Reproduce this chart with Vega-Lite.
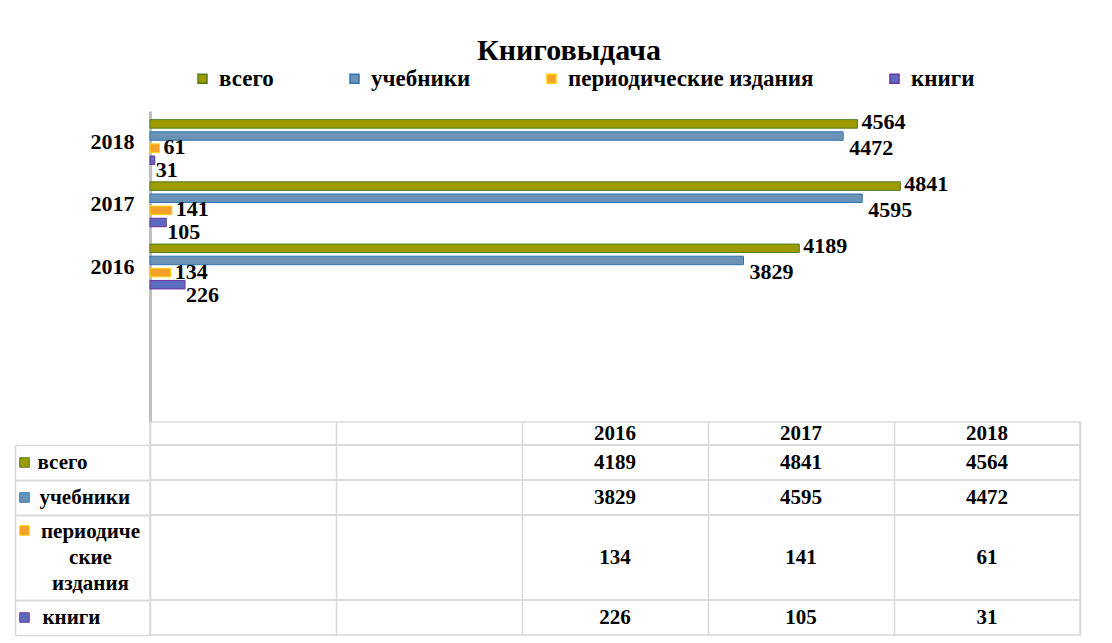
{
  "$schema": "https://vega.github.io/schema/vega-lite/v6.json",
  "padding": {"left": 13, "top": 36, "right": 10, "bottom": 5},
  "spacing": 0,
  "bounds": "flush",
  "datasets": {
    "vals": [
      {"year": "2016", "series": "всего", "value": 4189},
      {"year": "2016", "series": "учебники", "value": 3829},
      {"year": "2016", "series": "периодические издания", "value": 134},
      {"year": "2016", "series": "книги", "value": 226},
      {"year": "2017", "series": "всего", "value": 4841},
      {"year": "2017", "series": "учебники", "value": 4595},
      {"year": "2017", "series": "периодические издания", "value": 141},
      {"year": "2017", "series": "книги", "value": 105},
      {"year": "2018", "series": "всего", "value": 4564},
      {"year": "2018", "series": "учебники", "value": 4472},
      {"year": "2018", "series": "периодические издания", "value": 61},
      {"year": "2018", "series": "книги", "value": 31}
    ]
  },
  "vconcat": [
    {
      "width": 930,
      "height": 311,
      "view": {"stroke": null},
      "title": {"text": "Книговыдача", "font": "Liberation Serif", "fontSize": 30, "fontWeight": "bold", "color": "black", "dx": -46, "offset": 1},
      "data": {"name": "vals"},
      "encoding": {
        "y": {"field": "year", "type": "nominal", "scale": {"domain": ["2018", "2017", "2016", " ", "  "], "paddingInner": 0.22, "paddingOuter": 0.11},
          "axis": {"title": null, "domainColor": "#bfbfbf", "domainWidth": 3, "ticks": false, "grid": false, "labelFont": "Liberation Serif", "labelFontWeight": "bold", "labelFontSize": 22, "labelColor": "black", "labelPadding": 16}},
        "yOffset": {"field": "series", "type": "nominal", "scale": {"domain": ["всего", "учебники", "периодические издания", "книги"], "paddingInner": 0.3, "paddingOuter": 0.15}},
        "x": {"field": "value", "type": "quantitative", "scale": {"domain": [0, 6000], "nice": false}, "axis": null}
      },
      "layer": [
        {
          "mark": {"type": "bar", "strokeWidth": 1},
          "encoding": {
            "color": {"field": "series", "type": "nominal",
              "scale": {"domain": ["всего", "учебники", "периодические издания", "книги"], "range": ["#9e9b00", "#6a93b5", "#f4a12a", "#5b6cbf"]},
              "legend": {"orient": "none", "direction": "horizontal", "legendX": 41, "legendY": -44, "title": null, "symbolType": "square", "symbolSize": 81, "labelFont": "Liberation Serif", "labelFontWeight": "bold", "labelFontSize": 23, "labelColor": "black", "labelOffset": 5, "columnPadding": 69, "padding": 0, "labelLimit": 400}},
            "stroke": {"field": "series", "type": "nominal",
              "scale": {"domain": ["всего", "учебники", "периодические издания", "книги"], "range": ["#4e7d1a", "#2e75b6", "#ffd000", "#7030a0"]},
              "legend": null}
          }
        },
        {
          "transform": [{"filter": "datum.series === 'всего'"}],
          "mark": {"type": "text", "align": "left", "dx": 4, "dy": -2, "font": "Liberation Serif", "fontWeight": "bold", "fontSize": 22, "color": "black"},
          "encoding": {"text": {"field": "value", "type": "quantitative", "format": "d"}}
        },
        {
          "transform": [{"filter": "datum.series === 'учебники'"}],
          "mark": {"type": "text", "align": "left", "dx": 6, "dy": 12, "font": "Liberation Serif", "fontWeight": "bold", "fontSize": 22, "color": "black"},
          "encoding": {"text": {"field": "value", "type": "quantitative", "format": "d"}}
        },
        {
          "transform": [{"filter": "datum.series === 'периодические издания'"}],
          "mark": {"type": "text", "align": "left", "dx": 4, "dy": -1, "font": "Liberation Serif", "fontWeight": "bold", "fontSize": 22, "color": "black"},
          "encoding": {"text": {"field": "value", "type": "quantitative", "format": "d"}}
        },
        {
          "transform": [{"filter": "datum.series === 'книги'"}],
          "mark": {"type": "text", "align": "left", "dx": 1, "dy": 10, "font": "Liberation Serif", "fontWeight": "bold", "fontSize": 22, "color": "black"},
          "encoding": {"text": {"field": "value", "type": "quantitative", "format": "d"}}
        }
      ]
    },
    {
      "width": 930,
      "height": 23,
      "data": {"name": "vals"},
      "transform": [{"filter": "datum.series === 'всего'"}],
      "mark": {"type": "text", "font": "Liberation Serif", "fontWeight": "bold", "fontSize": 21, "color": "black"},
      "encoding": {
        "x": {"field": "year", "type": "nominal", "scale": {"domain": [" ", "  ", "2016", "2017", "2018"]},
          "axis": {"title": null, "labels": false, "ticks": false, "domain": false, "grid": true, "tickBand": "extent", "gridColor": "#d9d9d9", "gridWidth": 1.5, "minExtent": 0, "maxExtent": 0, "labelPadding": 0}},
        "text": {"field": "year"}
      }
    },
    {
      "width": 930,
      "height": 35,
      "data": {"name": "vals"},
      "transform": [{"filter": "datum.series === 'всего'"}],
      "encoding": {
        "x": {"field": "year", "type": "nominal", "scale": {"domain": [" ", "  ", "2016", "2017", "2018"]},
          "axis": {"title": null, "labels": false, "ticks": false, "domain": false, "grid": true, "tickBand": "extent", "gridColor": "#d9d9d9", "gridWidth": 1.5, "minExtent": 0, "maxExtent": 0, "labelPadding": 0}},
        "y": {"field": "series", "type": "nominal",
          "axis": {"title": "всего", "titleAngle": 0, "titleAlign": "left", "titleBaseline": "middle", "titleX": 22, "titleY": 17.5, "titleFont": "Liberation Serif", "titleFontWeight": "bold", "titleFontSize": 21, "titleColor": "black",
            "labels": false, "offset": 135, "tickSize": -135, "tickBand": "extent", "tickColor": "#d9d9d9", "tickWidth": 1.5, "domainColor": "#d9d9d9", "domainWidth": 1.5}}
      },
      "layer": [
        {"mark": {"type": "square", "opacity": 0},
          "encoding": {"color": {"field": "series", "type": "nominal", "scale": {"domain": ["всего"], "range": ["#9e9b00"]},
            "legend": {"orient": "none", "legendX": -131, "legendY": 12, "title": null, "labelExpr": "''", "symbolType": "square", "symbolSize": 90, "symbolOpacity": 1, "symbolStrokeColor": "#4e7d1a", "symbolStrokeWidth": 1, "padding": 0}}}},
        {"mark": {"type": "text", "font": "Liberation Serif", "fontWeight": "bold", "fontSize": 21, "color": "black"},
          "encoding": {"text": {"field": "value", "type": "quantitative", "format": "d"}}}
      ]
    },
    {
      "width": 930,
      "height": 35,
      "data": {"name": "vals"},
      "transform": [{"filter": "datum.series === 'учебники'"}],
      "encoding": {
        "x": {"field": "year", "type": "nominal", "scale": {"domain": [" ", "  ", "2016", "2017", "2018"]},
          "axis": {"title": null, "labels": false, "ticks": false, "domain": false, "grid": true, "tickBand": "extent", "gridColor": "#d9d9d9", "gridWidth": 1.5, "minExtent": 0, "maxExtent": 0, "labelPadding": 0}},
        "y": {"field": "series", "type": "nominal",
          "axis": {"title": "учебники", "titleAngle": 0, "titleAlign": "left", "titleBaseline": "middle", "titleX": 24, "titleY": 17.5, "titleFont": "Liberation Serif", "titleFontWeight": "bold", "titleFontSize": 21, "titleColor": "black",
            "labels": false, "offset": 135, "tickSize": -135, "tickBand": "extent", "tickColor": "#d9d9d9", "tickWidth": 1.5, "domainColor": "#d9d9d9", "domainWidth": 1.5}}
      },
      "layer": [
        {"mark": {"type": "square", "opacity": 0},
          "encoding": {"color": {"field": "series", "type": "nominal", "scale": {"domain": ["учебники"], "range": ["#6a93b5"]},
            "legend": {"orient": "none", "legendX": -131, "legendY": 12, "title": null, "labelExpr": "''", "symbolType": "square", "symbolSize": 90, "symbolOpacity": 1, "symbolStrokeColor": "#2e75b6", "symbolStrokeWidth": 1, "padding": 0}}}},
        {"mark": {"type": "text", "font": "Liberation Serif", "fontWeight": "bold", "fontSize": 21, "color": "black"},
          "encoding": {"text": {"field": "value", "type": "quantitative", "format": "d"}}}
      ]
    },
    {
      "width": 930,
      "height": 85,
      "data": {"name": "vals"},
      "transform": [{"filter": "datum.series === 'периодические издания'"}],
      "encoding": {
        "x": {"field": "year", "type": "nominal", "scale": {"domain": [" ", "  ", "2016", "2017", "2018"]},
          "axis": {"title": null, "labels": false, "ticks": false, "domain": false, "grid": true, "tickBand": "extent", "gridColor": "#d9d9d9", "gridWidth": 1.5, "minExtent": 0, "maxExtent": 0, "labelPadding": 0}},
        "y": {"field": "series", "type": "nominal",
          "axis": {"title": ["периодиче", "ские", "издания"], "titleAngle": 0, "titleAlign": "center", "titleBaseline": "top", "titleX": 75, "titleY": 5, "titleLineHeight": 26, "titleFont": "Liberation Serif", "titleFontWeight": "bold", "titleFontSize": 21, "titleColor": "black",
            "labels": false, "offset": 135, "tickSize": -135, "tickBand": "extent", "tickColor": "#d9d9d9", "tickWidth": 1.5, "domainColor": "#d9d9d9", "domainWidth": 1.5}}
      },
      "layer": [
        {"mark": {"type": "square", "opacity": 0},
          "encoding": {"color": {"field": "series", "type": "nominal", "scale": {"domain": ["периодические издания"], "range": ["#f4a12a"]},
            "legend": {"orient": "none", "legendX": -131, "legendY": 10, "title": null, "labelExpr": "''", "symbolType": "square", "symbolSize": 90, "symbolOpacity": 1, "symbolStrokeColor": "#ffd000", "symbolStrokeWidth": 1, "padding": 0}}}},
        {"mark": {"type": "text", "font": "Liberation Serif", "fontWeight": "bold", "fontSize": 21, "color": "black"},
          "encoding": {"text": {"field": "value", "type": "quantitative", "format": "d"}}}
      ]
    },
    {
      "width": 930,
      "height": 35,
      "data": {"name": "vals"},
      "transform": [{"filter": "datum.series === 'книги'"}],
      "encoding": {
        "x": {"field": "year", "type": "nominal", "scale": {"domain": [" ", "  ", "2016", "2017", "2018"]},
          "axis": {"title": null, "labels": false, "ticks": false, "domain": false, "grid": true, "tickBand": "extent", "gridColor": "#d9d9d9", "gridWidth": 1.5, "minExtent": 0, "maxExtent": 0, "labelPadding": 0}},
        "y": {"field": "series", "type": "nominal",
          "axis": {"title": "книги", "titleAngle": 0, "titleAlign": "left", "titleBaseline": "middle", "titleX": 27, "titleY": 17.5, "titleFont": "Liberation Serif", "titleFontWeight": "bold", "titleFontSize": 21, "titleColor": "black",
            "labels": false, "offset": 135, "tickSize": -135, "tickBand": "extent", "tickColor": "#d9d9d9", "tickWidth": 1.5, "domainColor": "#d9d9d9", "domainWidth": 1.5}}
      },
      "layer": [
        {"mark": {"type": "square", "opacity": 0},
          "encoding": {"color": {"field": "series", "type": "nominal", "scale": {"domain": ["книги"], "range": ["#5b6cbf"]},
            "legend": {"orient": "none", "legendX": -131, "legendY": 12, "title": null, "labelExpr": "''", "symbolType": "square", "symbolSize": 90, "symbolOpacity": 1, "symbolStrokeColor": "#7030a0", "symbolStrokeWidth": 1, "padding": 0}}}},
        {"mark": {"type": "text", "font": "Liberation Serif", "fontWeight": "bold", "fontSize": 21, "color": "black"},
          "encoding": {"text": {"field": "value", "type": "quantitative", "format": "d"}}}
      ]
    }
  ],
  "resolve": {"scale": {"color": "independent", "stroke": "independent"}, "legend": {"color": "independent"}},
  "config": {
    "view": {"stroke": "#d9d9d9", "strokeWidth": 1.5},
    "font": "Liberation Serif"
  }
}
